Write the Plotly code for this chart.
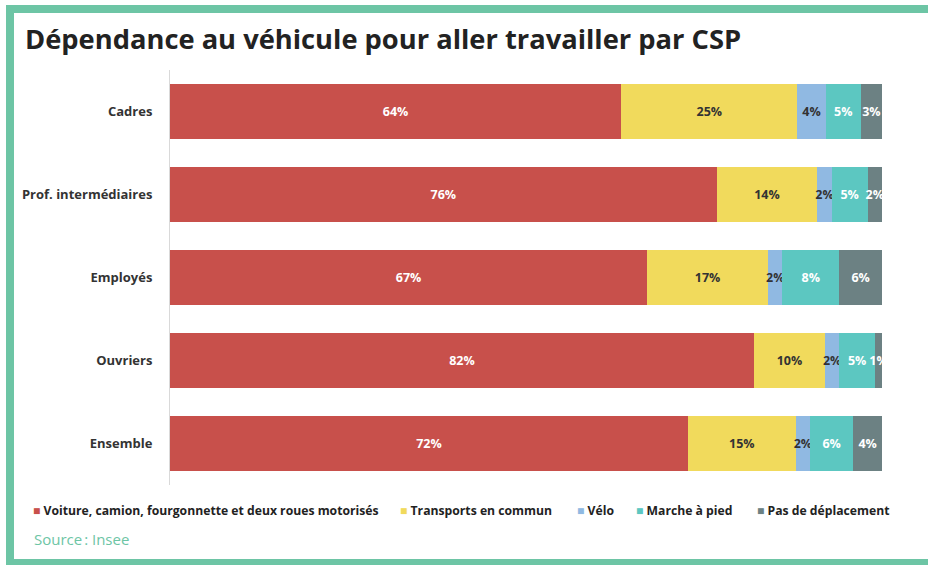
import plotly.graph_objects as go

# Data: share of commuting mode by socio-professional category (CSP)
categories = ["Cadres", "Prof. intermédiaires", "Employés", "Ouvriers", "Ensemble"]
series_names = [
    "Voiture, camion, fourgonnette et deux roues motorisés",
    "Transports en commun",
    "Vélo",
    "Marche à pied",
    "Pas de déplacement",
]
voiture = [64, 76, 67, 82, 72]
transports = [25, 14, 17, 10, 15]
velo = [4, 2, 2, 2, 2]
marche = [5, 5, 8, 5, 6]
aucun = [3, 2, 6, 1, 4]
series_values = [voiture, transports, velo, marche, aucun]

colors = ["#C8504B", "#F1DA5C", "#90B9E2", "#5CC7C1", "#6C8183"]
text_colors = ["white", "#333333", "#333333", "white", "white"]
frame_green = "#6DC5A5"
FONT = "Open Sans"

W, H = 928, 565
ML, MR, MT, MB = 170, 46, 70, 80
PW, PH = W - ML - MR, H - MT - MB


def px_x(px):
    return (px - ML) / PW


def px_y(py):
    return (H - MB - py) / PH


fig = go.Figure()
for name, vals, col, tcol in zip(series_names, series_values, colors, text_colors):
    fig.add_trace(go.Bar(
        y=categories, x=vals, name=name, orientation="h",
        marker=dict(color=col, line=dict(width=0)),
        text=[f"{v}%" for v in vals],
        textposition="inside", insidetextanchor="middle", textangle=0,
        textfont=dict(family=FONT, size=12.5, color=tcol, weight="bold"),
        showlegend=False, hoverinfo="skip",
    ))

fig.update_layout(
    width=W, height=H,
    margin=dict(l=ML, r=MR, t=MT, b=MB),
    paper_bgcolor="white", plot_bgcolor="white",
    barmode="stack", barnorm="percent", bargap=0.34,
    uniformtext=dict(minsize=12.5, mode="show"),
    xaxis=dict(range=[0, 100], visible=False, fixedrange=True),
    yaxis=dict(autorange="reversed", showline=True, linecolor="#D9D9D9",
               linewidth=1, ticks="", ticklabelstandoff=14,
               tickfont=dict(family=FONT, size=13, color="#333333", weight="bold"),
               showgrid=False, fixedrange=True),
    showlegend=False,
)

# Green frame around the card (top, left, bottom)
for x0, x1, y0, y1 in [(6, W, 5, 13), (6, 14, 5, H), (6, W, 559, H)]:
    fig.add_shape(type="rect", xref="paper", yref="paper",
                  x0=px_x(x0), x1=px_x(x1), y0=px_y(y1), y1=px_y(y0),
                  fillcolor=frame_green, line=dict(width=0), layer="above")

# Title
fig.add_annotation(text="<b>Dépendance au véhicule pour aller travailler par CSP</b>",
                   xref="paper", yref="paper", x=px_x(23), y=px_y(38),
                   xanchor="left", yanchor="middle", showarrow=False,
                   font=dict(family=FONT, size=27.3, color="#222222"))

# Legend row
legend_x = [31, 398, 575, 634, 755]
for lx, name, col in zip(legend_x, series_names, colors):
    fig.add_annotation(
        text=f"<span style='color:{col}'>■</span> <b>{name}</b>",
        xref="paper", yref="paper", x=px_x(lx), y=px_y(510),
        xanchor="left", yanchor="middle", showarrow=False,
        font=dict(family=FONT, size=12.2, color="#222222"))

# Source
fig.add_annotation(text="Source\u202f: Insee", xref="paper", yref="paper",
                   x=px_x(32), y=px_y(539), xanchor="left", yanchor="middle",
                   showarrow=False,
                   font=dict(family=FONT, size=15, color=frame_green))

fig.write_html("out.html")
